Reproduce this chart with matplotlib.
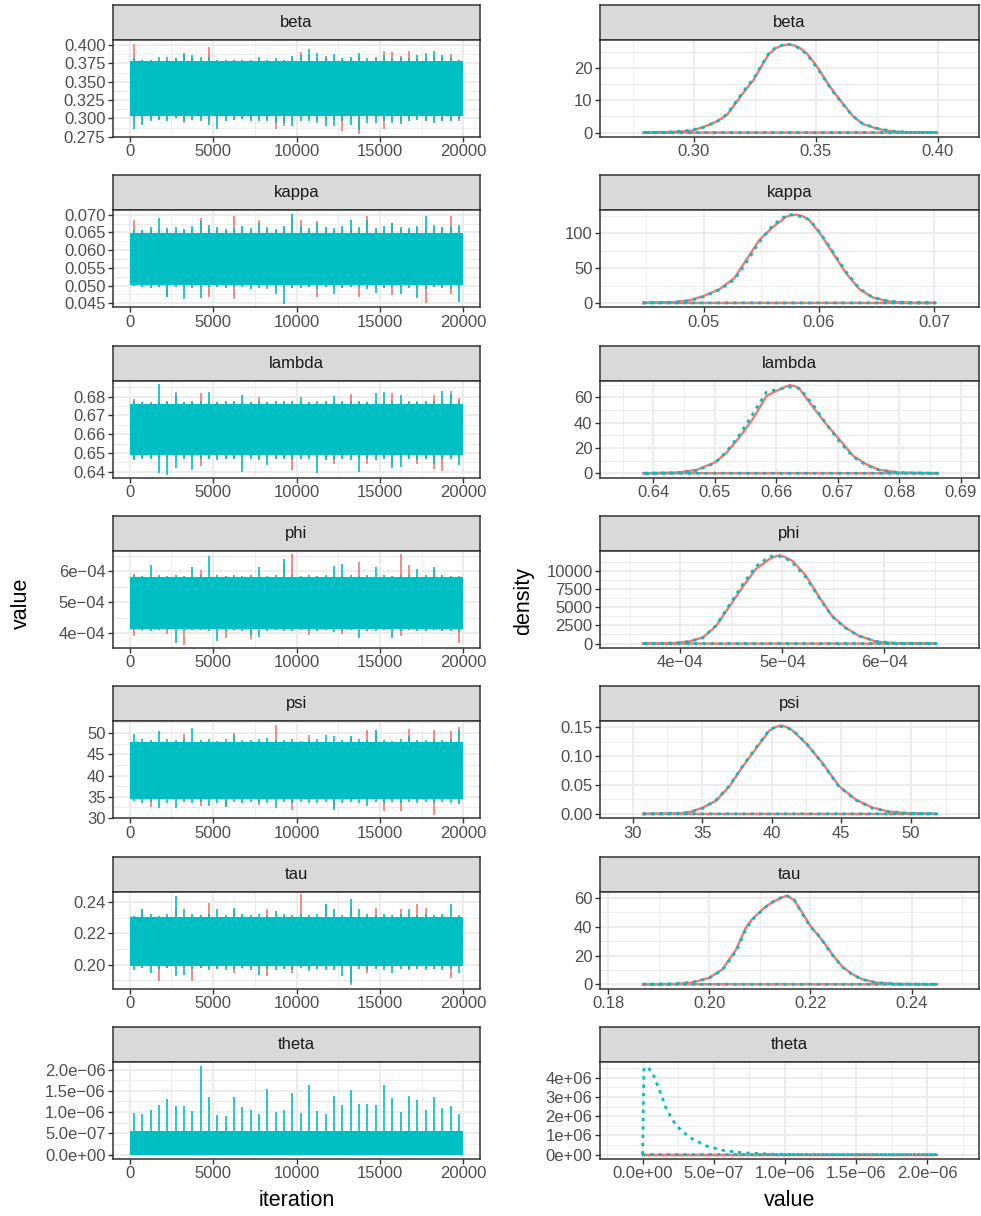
import numpy as np
import matplotlib
matplotlib.use('Agg')
import matplotlib.pyplot as plt

plt.rcParams['font.family'] = ['Liberation Sans', 'DejaVu Sans']

RED = '#F8766D'
CYAN = '#00BFC4'

params = ['beta', 'kappa', 'lambda', 'phi', 'psi', 'tau', 'theta']

# trace envelopes: max / min of each chain in 40 blocks of 500 iterations
block_mid = np.arange(250, 20000, 500)

beta_hi_cyan = [0.382,0.380,0.380,0.384,0.383,0.382,0.389,0.386,0.383,0.384,0.380,0.380,0.380,0.380,0.380,0.383,0.380,0.382,0.380,0.385,
                0.386,0.394,0.389,0.383,0.388,0.382,0.384,0.389,0.382,0.383,0.386,0.382,0.384,0.382,0.386,0.389,0.392,0.386,0.384,0.380]
beta_hi_red = [0.401,0.378,0.377,0.380,0.379,0.382,0.388,0.383,0.378,0.397,0.378,0.377,0.379,0.376,0.378,0.379,0.378,0.379,0.377,0.380,
               0.391,0.384,0.382,0.385,0.380,0.379,0.381,0.383,0.380,0.382,0.392,0.391,0.385,0.392,0.381,0.382,0.384,0.383,0.388,0.379]
beta_lo_cyan = [0.286,0.291,0.296,0.298,0.297,0.300,0.296,0.298,0.297,0.291,0.286,0.297,0.298,0.299,0.296,0.297,0.296,0.293,0.294,0.290,
                0.296,0.297,0.293,0.290,0.289,0.296,0.291,0.284,0.293,0.294,0.297,0.293,0.292,0.296,0.298,0.297,0.293,0.296,0.297,0.299]
beta_lo_red = [0.300,0.301,0.300,0.299,0.300,0.301,0.293,0.299,0.300,0.296,0.300,0.301,0.300,0.300,0.299,0.300,0.298,0.286,0.289,0.300,
               0.299,0.300,0.298,0.299,0.298,0.283,0.299,0.279,0.299,0.300,0.286,0.299,0.296,0.299,0.300,0.299,0.300,0.299,0.296,0.297]

kappa_hi_cyan = [0.0660,0.0658,0.0665,0.0691,0.0662,0.0665,0.0660,0.0668,0.0681,0.0672,0.0665,0.0660,0.0663,0.0667,0.0662,0.0676,0.0665,0.0660,0.0667,0.0703,
                 0.0668,0.0662,0.0676,0.0665,0.0662,0.0668,0.0686,0.0665,0.0686,0.0662,0.0667,0.0676,0.0665,0.0662,0.0668,0.0695,0.0672,0.0665,0.0667,0.0672]
kappa_hi_red = [0.0684,0.0656,0.0658,0.0660,0.0656,0.0655,0.0658,0.0657,0.0691,0.0660,0.0656,0.0658,0.0695,0.0660,0.0657,0.0686,0.0659,0.0656,0.0660,0.0691,
                0.0686,0.0658,0.0681,0.0660,0.0657,0.0660,0.0662,0.0658,0.0695,0.0660,0.0657,0.0676,0.0660,0.0658,0.0662,0.0665,0.0660,0.0659,0.0697,0.0662]
kappa_lo_cyan = [0.0500,0.0495,0.0493,0.0497,0.0469,0.0495,0.0461,0.0493,0.0464,0.0497,0.0495,0.0493,0.0497,0.0495,0.0490,0.0493,0.0495,0.0477,0.0448,0.0493,
                 0.0495,0.0497,0.0490,0.0495,0.0477,0.0493,0.0495,0.0497,0.0490,0.0480,0.0493,0.0495,0.0477,0.0493,0.0464,0.0490,0.0495,0.0493,0.0490,0.0455]
kappa_lo_red = [0.0505,0.0500,0.0498,0.0495,0.0467,0.0498,0.0495,0.0497,0.0495,0.0467,0.0497,0.0495,0.0461,0.0498,0.0495,0.0497,0.0490,0.0495,0.0497,0.0495,
                0.0493,0.0497,0.0469,0.0495,0.0497,0.0493,0.0495,0.0467,0.0495,0.0497,0.0493,0.0474,0.0495,0.0497,0.0493,0.0452,0.0495,0.0493,0.0477,0.0495]

lambda_hi_cyan = [0.6780,0.6773,0.6768,0.6866,0.6775,0.6815,0.6770,0.6780,0.6778,0.6827,0.6772,0.6775,0.6778,0.6809,0.6770,0.6775,0.6772,0.6778,0.6770,0.6775,
                  0.6800,0.6772,0.6770,0.6775,0.6804,0.6772,0.6778,0.6775,0.6770,0.6818,0.6827,0.6775,0.6809,0.6778,0.6773,0.6780,0.6775,0.6830,0.6813,0.6775]
lambda_hi_red = [0.6786,0.6770,0.6772,0.6775,0.6770,0.6823,0.6772,0.6775,0.6818,0.6775,0.6770,0.6772,0.6775,0.6773,0.6770,0.6800,0.6772,0.6770,0.6775,0.6772,
                 0.6770,0.6773,0.6775,0.6770,0.6772,0.6775,0.6815,0.6772,0.6770,0.6773,0.6775,0.6818,0.6772,0.6770,0.6775,0.6773,0.6809,0.6772,0.6832,0.6791]
lambda_lo_cyan = [0.6461,0.6470,0.6465,0.6393,0.6380,0.6421,0.6465,0.6411,0.6470,0.6465,0.6460,0.6468,0.6465,0.6398,0.6465,0.6460,0.6434,0.6468,0.6465,0.6460,
                  0.6468,0.6465,0.6393,0.6462,0.6460,0.6465,0.6462,0.6398,0.6465,0.6460,0.6465,0.6421,0.6425,0.6465,0.6460,0.6465,0.6439,0.6462,0.6465,0.6434]
lambda_lo_red = [0.6470,0.6478,0.6475,0.6473,0.6470,0.6475,0.6472,0.6475,0.6429,0.6475,0.6472,0.6475,0.6470,0.6473,0.6475,0.6472,0.6470,0.6475,0.6472,0.6411,
                 0.6470,0.6475,0.6472,0.6470,0.6439,0.6475,0.6472,0.6470,0.6443,0.6473,0.6475,0.6434,0.6470,0.6475,0.6439,0.6472,0.6416,0.6404,0.6470,0.6473]

# phi in units of 1e-4
phi_hi_cyan = [5.88,5.85,6.19,5.87,5.85,5.88,5.84,6.14,5.86,6.48,5.88,5.85,5.87,5.84,5.86,6.14,5.85,5.88,6.38,5.86,
               5.84,5.87,5.85,5.86,6.16,6.24,5.87,5.85,5.88,6.14,5.86,5.85,5.87,5.86,6.08,5.88,6.14,5.86,5.85,5.84]
phi_hi_red = [5.92,5.80,5.82,5.84,5.80,5.82,5.80,5.83,6.05,5.82,5.80,5.84,5.82,5.80,5.83,5.81,5.82,5.84,6.24,6.54,
              5.82,5.80,5.84,5.82,5.80,5.83,5.82,6.30,5.84,5.80,5.82,5.83,6.54,6.19,5.82,5.80,6.05,5.82,5.84,5.80]
phi_lo_cyan = [4.10,4.12,4.08,4.10,4.12,3.69,4.08,4.10,4.12,4.06,3.74,4.08,4.10,4.06,3.95,3.88,4.08,4.10,4.06,4.08,
               4.10,4.06,4.08,4.10,4.05,4.08,4.10,3.86,4.08,4.06,4.10,3.86,4.06,4.10,4.08,4.06,4.10,4.08,4.06,4.05]
phi_lo_red = [3.90,4.12,4.14,4.15,3.97,4.14,3.63,4.12,4.15,4.13,4.14,3.85,4.12,4.15,3.80,4.13,4.14,4.12,4.15,4.13,
              4.14,3.95,4.12,4.14,4.15,3.97,4.13,4.14,4.12,4.15,4.13,4.14,3.90,4.12,4.15,4.13,4.14,4.12,4.14,3.70]

psi_hi_cyan = [49.8,48.5,48.3,50.4,48.6,48.4,48.5,51.2,48.3,48.5,48.2,48.6,49.6,48.4,48.3,48.5,48.8,48.4,48.3,48.5,
               48.2,48.4,48.6,49.6,49.2,48.4,49.2,48.5,48.3,50.8,48.4,48.2,48.6,49.2,48.4,48.3,48.5,48.4,48.6,50.8]
psi_hi_red = [47.8,48.0,47.6,47.9,47.7,48.0,49.8,47.8,47.6,47.9,47.7,47.8,50.0,47.6,47.9,47.7,47.8,52.0,47.6,47.9,
              47.7,49.6,47.8,47.6,47.9,47.7,48.9,47.8,50.8,50.6,47.9,47.7,47.8,50.9,47.6,47.9,50.8,47.7,50.4,51.4]
psi_lo_cyan = [34.0,33.6,33.8,32.4,33.5,32.3,33.7,33.5,33.8,32.8,33.6,32.6,33.7,33.5,33.8,33.6,33.5,32.3,33.7,33.5,
               33.8,33.6,33.5,33.7,32.0,33.6,33.8,33.5,32.8,33.7,33.6,33.8,33.5,33.7,33.6,33.8,33.5,33.7,33.6,33.3]
psi_lo_red = [34.2,34.4,32.5,34.3,34.5,34.2,34.4,34.3,32.8,34.5,34.2,32.5,34.4,34.3,34.5,33.0,34.2,34.4,34.3,31.9,
              34.5,34.2,34.4,34.3,32.3,34.5,34.2,34.4,34.3,34.5,31.7,34.2,31.7,34.4,34.3,34.5,30.7,34.2,34.4,33.6]

tau_hi_cyan = [0.2310,0.2353,0.2321,0.2310,0.2325,0.2439,0.2353,0.2321,0.2315,0.2325,0.2353,0.2315,0.2364,0.2321,0.2315,0.2325,0.2318,0.2342,0.2321,0.2315,
               0.2325,0.2318,0.2321,0.2385,0.2353,0.2318,0.2417,0.2357,0.2321,0.2315,0.2325,0.2318,0.2321,0.2353,0.2318,0.2325,0.2315,0.2321,0.2385,0.2318]
tau_hi_red = [0.2299,0.2353,0.2305,0.2300,0.2310,0.2364,0.2305,0.2300,0.2310,0.2391,0.2305,0.2300,0.2353,0.2310,0.2305,0.2300,0.2357,0.2305,0.2310,0.2300,
              0.2449,0.2305,0.2300,0.2385,0.2310,0.2305,0.2374,0.2300,0.2310,0.2364,0.2305,0.2300,0.2353,0.2310,0.2385,0.2364,0.2305,0.2300,0.2310,0.2305]
tau_lo_cyan = [0.1968,0.1975,0.1947,0.1970,0.1975,0.1925,0.1936,0.1970,0.1975,0.1968,0.1972,0.1965,0.1970,0.1975,0.1968,0.1936,0.1972,0.1965,0.1970,0.1968,
               0.1975,0.1960,0.1970,0.1965,0.1968,0.1925,0.1882,0.1970,0.1965,0.1972,0.1968,0.1947,0.1970,0.1965,0.1972,0.1968,0.1970,0.1965,0.1972,0.1947]
tau_lo_red = [0.1989,0.1980,0.1985,0.1893,0.1980,0.1982,0.1978,0.1893,0.1980,0.1982,0.1978,0.1985,0.1947,0.1980,0.1982,0.1978,0.1929,0.1985,0.1980,0.1947,
              0.1982,0.1978,0.1985,0.1980,0.1982,0.1978,0.1872,0.1985,0.1943,0.1980,0.1982,0.1978,0.1985,0.1980,0.1982,0.1978,0.1985,0.1980,0.1914,0.1982]

# theta in units of 1e-7; the red chain sits at 0
theta_hi_cyan = [9.7,9.6,10.5,11.7,13.2,11.4,11.5,10.2,20.8,13.6,9.4,9.0,13.6,11.2,10.6,9.5,15.5,10.0,10.5,14.4,
                 9.8,16.4,10.2,9.6,13.7,11.6,15.3,12.0,12.0,11.6,16.3,13.4,10.0,13.7,12.8,10.4,13.6,11.0,11.4,9.6]
theta_hi_red = [0.0] * 40
theta_lo_cyan = [0.0] * 40
theta_lo_red = [0.0] * 40

# solid part of each trace band (lo, hi) for cyan / red
core_cyan = {'beta': (0.303, 0.3786), 'kappa': (0.0502, 0.0648), 'lambda': (0.6487, 0.6761),
             'phi': (4.15, 5.82), 'psi': (34.4, 47.8), 'tau': (0.1989, 0.2306), 'theta': (0.0, 5.6)}
core_red = {'beta': (0.304, 0.376), 'kappa': (0.0505, 0.0645), 'lambda': (0.6490, 0.6758),
            'phi': (4.17, 5.80), 'psi': (34.6, 47.6), 'tau': (0.1995, 0.2300), 'theta': (0.0, 0.0)}

# densities
beta_dx = [0.2795,0.289,0.2986,0.304,0.3096,0.3137,0.3185,0.3215,0.3247,0.3278,0.3308,0.3335,0.3362,0.339,
           0.3415,0.3440,0.3466,0.35,0.3525,0.3548,0.3575,0.3603,0.3651,0.3692,0.3753,0.3808,0.3877,0.400]
beta_d_red = [0,0.1,0.5,1.7,3.5,5.5,10.4,13.4,16.4,20.5,24.2,26.0,26.9,27.2,
              26.9,25.9,24.3,21.0,18.2,15.4,12.5,9.8,5.3,2.7,1.2,0.4,0.1,0]
beta_d_cyan = [0,0.1,0.7,1.6,3.4,5.7,10.8,13.8,16.8,20.8,24.5,26.2,27.0,27.3,
               26.8,25.7,24.0,20.6,17.9,15.2,12.3,9.6,5.2,2.8,1.3,0.5,0.1,0]

kappa_dx = [0.04475,0.04734,0.04879,0.05,0.05139,0.05268,0.0537,0.05485,0.056,0.05716,0.0576,
            0.05802,0.0585,0.05918,0.06019,0.0612,0.06235,0.0635,0.06466,0.0661,0.06784,0.0701]
kappa_d_red = [0,1,4,10,20,36,62,91,109,124,126.5,127,125.5,119,98,72,43,20,8,2,0,0]
kappa_d_cyan = [0,0.8,3,9,19,34,58,88,112,126,127,126,124,120,99,74,45,21,8,2.5,0.3,0]

lambda_dx = [0.6384,0.6438,0.647,0.65,0.6519,0.6541,0.6562,0.6584,0.66,0.6611,0.6622,
             0.663,0.6638,0.666,0.6681,0.6703,0.6725,0.6746,0.6768,0.68,0.6863]
lambda_d_red = [0,0.5,2.6,8.5,16.2,29,43,61,65,67.5,69.6,68.8,66.5,52,39,26.5,13.7,7.2,2.6,0.5,0]
lambda_d_cyan = [0,0.3,2,8,17,31,47,64,66,67,68,67.8,67,54,39,25,13,6.5,2.5,0.4,0]

phi_dx = [3.635,3.96,4.09,4.22,4.35,4.48,4.61,4.74,4.87,4.92,4.97,5.03,5.10,5.23,5.36,5.49,5.62,5.75,5.92,6.11,6.51]
phi_d_red = [0,90,312,848,2411,5089,7768,10223,11563,11900,12098,11850,11339,9330,6429,3750,2188,1071,268,45,0]
phi_d_cyan = [0,70,280,800,2500,5300,8100,10600,11900,12050,12000,11700,11100,9100,6300,3700,2150,1050,300,60,0]

psi_dx = [30.76,33.15,34.1,35.06,36.01,36.97,37.92,38.88,39.83,40.25,40.67,41.08,41.5,42.46,43.65,44.84,46.04,47.23,48.42,49.86,51.88]
psi_d_red = [0,0.0006,0.003,0.011,0.023,0.048,0.082,0.113,0.144,0.150,0.153,0.150,0.144,0.122,0.088,0.048,0.025,0.011,0.004,0.001,0]
psi_d_cyan = [0,0.0005,0.003,0.010,0.024,0.049,0.083,0.115,0.145,0.150,0.151,0.149,0.145,0.123,0.087,0.047,0.024,0.010,0.004,0.001,0]

tau_dx = [0.1869,0.1934,0.1967,0.2000,0.2026,0.2053,0.2072,0.2085,0.2112,0.2128,0.2145,0.2154,
          0.2168,0.2184,0.2200,0.2214,0.2227,0.2243,0.2263,0.2283,0.2302,0.2329,0.2368,0.2451]
tau_d_red = [0,0.2,1.2,4.6,10.4,24.2,39.3,45.5,54.3,57.7,60.7,61.7,58.4,49.7,40.4,34.6,28.9,20.8,12.2,6.9,3.5,1.2,0.2,0]
tau_d_cyan = [0,0.3,1.4,4.3,10,23,38,45,54,58,61,61.5,58.8,49,40,34.8,28.5,20.5,12,6.7,3.4,1.1,0.2,0]

# theta x in 1e-7, density in 1e6
theta_dx = [0,0.09,0.33,0.75,1.21,1.68,2.38,3.32,4.49,5.65,7.06,9.16,12.7,20.7]
theta_d_red = [0,0,0,0,0,0,0,0,0,0,0,0,0,0]
theta_d_cyan = [0,4.43,4.6,4.17,3.31,2.35,1.49,0.88,0.45,0.22,0.09,0.02,0,0]

scale_val = {'beta': 1, 'kappa': 1, 'lambda': 1, 'phi': 1e-4, 'psi': 1, 'tau': 1, 'theta': 1e-7}
scale_dens = {'beta': 1, 'kappa': 1, 'lambda': 1, 'phi': 1, 'psi': 1, 'tau': 1, 'theta': 1e6}

# axis settings
trace_xticks = [0, 5000, 10000, 15000, 20000]
trace_yticks = {
    'beta': ([0.275, 0.300, 0.325, 0.350, 0.375, 0.400], ['0.275', '0.300', '0.325', '0.350', '0.375', '0.400'], (0.2746, 0.4068)),
    'kappa': ([0.045, 0.050, 0.055, 0.060, 0.065, 0.070], ['0.045', '0.050', '0.055', '0.060', '0.065', '0.070'], (0.04387, 0.07123)),
    'lambda': ([0.64, 0.65, 0.66, 0.67, 0.68], ['0.64', '0.65', '0.66', '0.67', '0.68'], (0.6368, 0.6886)),
    'phi': ([4e-4, 5e-4, 6e-4], ['4e\u221204', '5e\u221204', '6e\u221204'], (3.527e-4, 6.645e-4)),
    'psi': ([30, 35, 40, 45, 50], ['30', '35', '40', '45', '50'], (29.95, 52.75)),
    'tau': ([0.20, 0.22, 0.24], ['0.20', '0.22', '0.24'], (0.1846, 0.2466)),
    'theta': ([0, 5e-7, 1e-6, 1.5e-6, 2e-6], ['0.0e+00', '5.0e\u221207', '1.0e\u221206', '1.5e\u221206', '2.0e\u221206'], (-1.04e-7, 2.18e-6)),
}
dens_xticks = {
    'beta': ([0.30, 0.35, 0.40], ['0.30', '0.35', '0.40'], (0.2616, 0.417)),
    'kappa': ([0.05, 0.06, 0.07], ['0.05', '0.06', '0.07'], (0.0410, 0.0739)),
    'lambda': ([0.64, 0.65, 0.66, 0.67, 0.68, 0.69], ['0.64', '0.65', '0.66', '0.67', '0.68', '0.69'], (0.6313, 0.6930)),
    'phi': ([4e-4, 5e-4, 6e-4], ['4e\u221204', '5e\u221204', '6e\u221204'], (3.21e-4, 6.93e-4)),
    'psi': ([30, 35, 40, 45, 50], ['30', '35', '40', '45', '50'], (27.66, 54.9)),
    'tau': ([0.18, 0.20, 0.22, 0.24], ['0.18', '0.20', '0.22', '0.24'], (0.1784, 0.2533)),
    'theta': ([0, 5e-7, 1e-6, 1.5e-6, 2e-6], ['0.0e+00', '5.0e\u221207', '1.0e\u221206', '1.5e\u221206', '2.0e\u221206'], (-2.99e-7, 2.362e-6)),
}
dens_yticks = {
    'beta': ([0, 10, 20], ['0', '10', '20'], (-1.36, 28.6)),
    'kappa': ([0, 50, 100], ['0', '50', '100'], (-6.35, 133.3)),
    'lambda': ([0, 20, 40, 60], ['0', '20', '40', '60'], (-3.5, 73.1)),
    'phi': ([0, 2500, 5000, 7500, 10000], ['0', '2500', '5000', '7500', '10000'], (-605, 12700)),
    'psi': ([0, 0.05, 0.10, 0.15], ['0.00', '0.05', '0.10', '0.15'], (-0.0076, 0.160)),
    'tau': ([0, 20, 40, 60], ['0', '20', '40', '60'], (-3.07, 64.5)),
    'theta': ([0, 1e6, 2e6, 3e6, 4e6], ['0e+00', '1e+06', '2e+06', '3e+06', '4e+06'], (-0.23e6, 4.83e6)),
}

W, H = 981, 1216
fig = plt.figure(figsize=(W / 100, H / 100), dpi=100)

LEFT_X = (113, 480)
RIGHT_X = (600, 979)
STRIP_H = 35
PANEL_H = 97
ROW_STEP = 170.33
FS = 12
FS_TITLE = 15.5


def minor_of(major, lim):
    step = major[1] - major[0]
    m = np.arange(major[0] - step / 2, major[-1] + step, step)
    return [v for v in m if lim[0] < v < lim[1]]


def make_panel(xr, top, title):
    x0, x1 = xr
    sax = fig.add_axes([x0 / W, 1 - (top + STRIP_H) / H, (x1 - x0) / W, STRIP_H / H])
    sax.set_facecolor('#D9D9D9')
    sax.set_xticks([])
    sax.set_yticks([])
    for s in sax.spines.values():
        s.set_color('#333333')
        s.set_linewidth(1.1)
    sax.text(0.5, 0.5, title, ha='center', va='center', fontsize=FS, color='#1A1A1A',
             transform=sax.transAxes)
    ax = fig.add_axes([x0 / W, 1 - (top + STRIP_H + PANEL_H) / H, (x1 - x0) / W, PANEL_H / H])
    ax.set_axisbelow(True)
    for s in ax.spines.values():
        s.set_color('#333333')
        s.set_linewidth(1.1)
    ax.tick_params(which='major', length=3.4, width=1.0, color='#333333', labelcolor='#4D4D4D',
                   labelsize=FS, pad=2.0)
    ax.tick_params(which='minor', length=0)
    ax.grid(which='major', color='#EBEBEB', lw=1.3)
    ax.grid(which='minor', color='#EBEBEB', lw=0.65)
    return ax


def set_axis(ax, xspec, yspec):
    xt, xl, xlim = xspec
    yt, yl, ylim = yspec
    ax.set_xlim(xlim)
    ax.set_ylim(ylim)
    ax.set_xticks(xt)
    ax.set_xticklabels(xl)
    ax.set_yticks(yt)
    ax.set_yticklabels(yl)
    ax.set_xticks(minor_of(xt, xlim), minor=True)
    ax.set_yticks(minor_of(yt, ylim), minor=True)


for i, p in enumerate(params):
    top = 5 + ROW_STEP * i
    g = globals()
    sv = scale_val[p]

    # trace: red chain first, cyan on top
    ax = make_panel(LEFT_X, top, p)
    z = 2
    for col, core in [('red', core_red), ('cyan', core_cyan)]:
        color = RED if col == 'red' else CYAN
        lo = np.array(g[f'{p}_lo_{col}']) * sv
        hi = np.array(g[f'{p}_hi_{col}']) * sv
        c_lo, c_hi = core[p]
        if c_hi > c_lo:
            ax.fill_between([0, 20000], c_lo * sv, c_hi * sv, color=color, lw=0, zorder=z)
        keep = hi > lo
        ax.vlines(block_mid[keep], lo[keep], hi[keep], color=color, lw=1.2, zorder=z + 0.5)
        z += 1
    set_axis(ax, (trace_xticks, [str(t) for t in trace_xticks], (-1000, 21000)), trace_yticks[p])

    # density
    ax = make_panel(RIGHT_X, top, p)
    dx = np.array(g[f'{p}_dx']) * sv
    sd = scale_dens[p]
    for col in ['red', 'cyan']:
        dy = np.array(g[f'{p}_d_{col}']) * sd
        xs = np.append(dx, dx[0])
        ys = np.append(dy, 0)
        if col == 'red':
            ax.plot(xs, ys, color=RED, lw=1.7, solid_joinstyle='round', zorder=3)
        else:
            ax.plot(xs, ys, color=CYAN, lw=2.0, linestyle=(0, (1.2, 1.8)), dash_capstyle='butt', zorder=4)
    set_axis(ax, dens_xticks[p], dens_yticks[p])

fig.text(296.5 / W, 1 - 1200 / H, 'iteration', ha='center', va='center', fontsize=FS_TITLE)
fig.text(789.5 / W, 1 - 1200 / H, 'value', ha='center', va='center', fontsize=FS_TITLE)
fig.text(21 / W, 1 - 603 / H, 'value', ha='center', va='center', fontsize=FS_TITLE, rotation=90)
fig.text(524 / W, 1 - 601 / H, 'density', ha='center', va='center', fontsize=FS_TITLE, rotation=90)

fig.savefig('out.png', dpi=100)
